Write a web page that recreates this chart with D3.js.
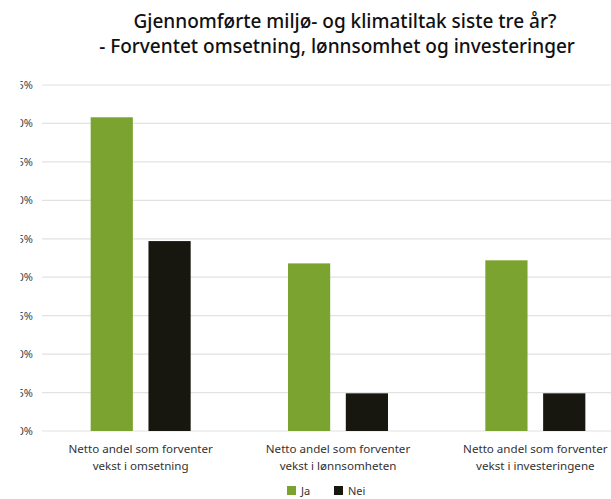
<html>
<head>
<meta charset="utf-8">
<script src="https://d3js.org/d3.v7.min.js"></script>
<style>
  body { margin: 0; background: #fff; overflow: hidden; }
  text { font-family: "Noto Sans", "Open Sans", sans-serif; }
</style>
</head>
<body>
<div id="chart"></div>
<script>
// data
var categories = [
  ["Netto andel som forventer", "vekst i omsetning"],
  ["Netto andel som forventer", "vekst i lønnsomheten"],
  ["Netto andel som forventer", "vekst i investeringene"]
];
var seriesNames = ["Ja", "Nei"];
var jaValues = [40.8, 21.8, 22.2];
var neiValues = [24.7, 4.9, 4.9];
var yTicks = [0, 5, 10, 15, 20, 25, 30, 35, 40, 45];
var colors = ["#7ba32f", "#17160f"];

var w = 611, h = 499;
var plotLeft = 42, plotRight = 634, plotTop = 85, plotBottom = 431;

var svg = d3.select("#chart").append("svg")
  .attr("width", w)
  .attr("height", h);

// the original chart is cropped on the left, hiding part of the axis labels
svg.append("clipPath").attr("id", "crop")
  .append("rect").attr("x", 20.5).attr("y", 0).attr("width", w).attr("height", h);

var x = d3.scaleBand().domain([0, 1, 2]).range([plotLeft, plotRight]);
var x1 = d3.scaleBand().domain(seriesNames).range([0, 100]).paddingInner(0.27);
var y = d3.scaleLinear().domain([0, 45]).range([plotBottom, plotTop]);

// gridlines
svg.append("g").selectAll("line")
  .data(yTicks)
  .enter().append("line")
  .attr("x1", plotLeft).attr("x2", plotRight)
  .attr("y1", function(d) { return y(d); })
  .attr("y2", function(d) { return y(d); })
  .attr("stroke", "#e2e2e2")
  .attr("stroke-width", 1.2);

// y labels
svg.append("g").attr("clip-path", "url(#crop)").selectAll("text")
  .data(yTicks)
  .enter().append("text")
  .attr("x", 33)
  .attr("y", function(d) { return y(d) + 4; })
  .attr("text-anchor", "end")
  .attr("font-size", 11)
  .attr("fill", "#444")
  .text(function(d) { return d + "%"; });

// bars
var rows = categories.map(function(c, i) {
  return [{s: "Ja", v: jaValues[i]}, {s: "Nei", v: neiValues[i]}];
});
var groups = svg.append("g").selectAll("g")
  .data(rows)
  .enter().append("g")
  .attr("transform", function(d, i) {
    return "translate(" + (x(i) + x.bandwidth() / 2 - 50) + ",0)";
  });
groups.selectAll("rect")
  .data(function(d) { return d; })
  .enter().append("rect")
  .attr("x", function(d) { return x1(d.s); })
  .attr("width", x1.bandwidth())
  .attr("y", function(d) { return y(d.v); })
  .attr("height", function(d) { return plotBottom - y(d.v); })
  .attr("fill", function(d, i) { return colors[i]; });

// category labels
var catText = svg.append("g").selectAll("text")
  .data(categories)
  .enter().append("text")
  .attr("text-anchor", "middle")
  .attr("font-size", 11.6)
  .attr("fill", "#333");
catText.each(function(d, i) {
  var t = d3.select(this);
  d.forEach(function(line, k) {
    t.append("tspan")
      .attr("x", x(i) + x.bandwidth() / 2)
      .attr("y", 453 + k * 17)
      .text(line);
  });
});

// title
var title = svg.append("text")
  .attr("text-anchor", "middle")
  .attr("font-size", 19)
  .attr("font-weight", 500)
  .attr("fill", "#111");
title.append("tspan").attr("x", 345).attr("y", 28)
  .text("Gjennomførte miljø- og klimatiltak siste tre år?");
title.append("tspan").attr("x", 337).attr("y", 53)
  .text("- Forventet omsetning, lønnsomhet og investeringer");

// legend
var legend = svg.append("g").selectAll("g")
  .data(seriesNames)
  .enter().append("g")
  .attr("transform", function(d, i) { return "translate(" + (287 + i * 47) + ",486)"; });
legend.append("rect")
  .attr("width", 9).attr("height", 9)
  .attr("fill", function(d, i) { return colors[i]; });
legend.append("text")
  .attr("x", 14).attr("y", 9)
  .attr("font-size", 11)
  .attr("fill", "#333")
  .text(function(d) { return d; });
</script>
</body>
</html>
